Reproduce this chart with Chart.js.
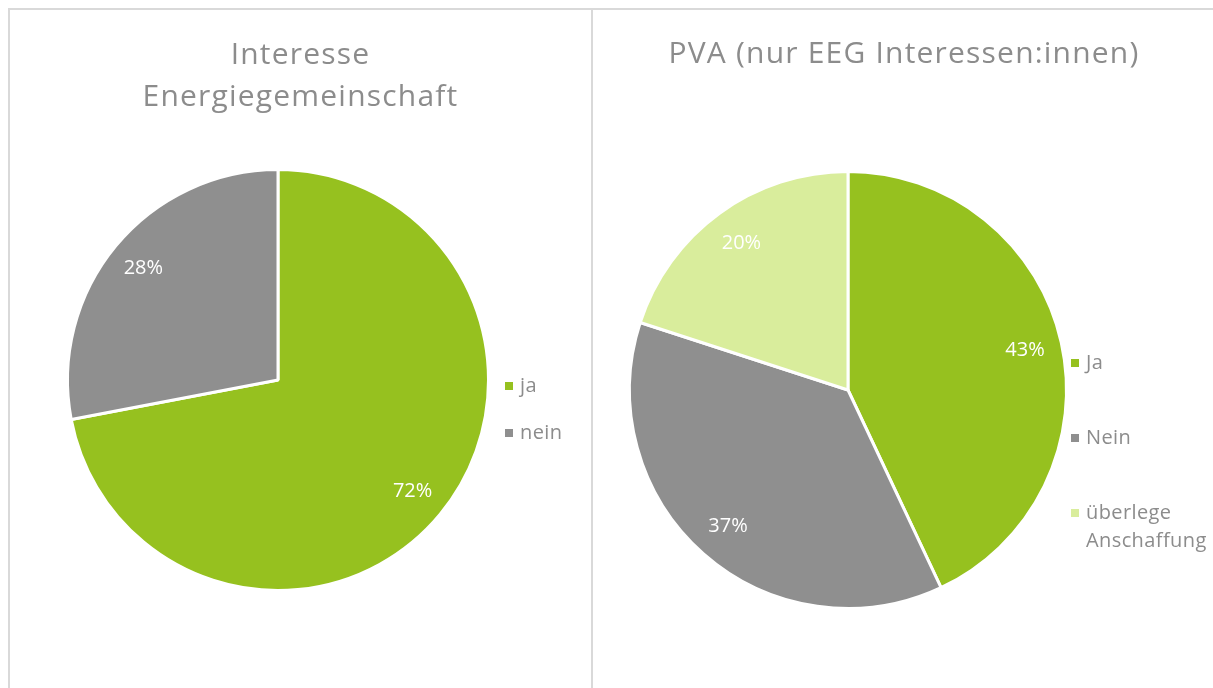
<!DOCTYPE html>
<html>
<head>
<title>Energiegemeinschaft Umfrage</title>
<script src="https://cdn.jsdelivr.net/npm/chart.js"></script>
<style>
body {
    margin:0;
    background:white;
    width:1213px;
    height:688px;
    overflow:hidden;
    position:relative;
    font-family:"Open Sans", Arial;
}
.frame {
    position:absolute;
    left:8px; top:8px;
    width:1300px; height:800px;
    border-top:2px solid #d9d9d9;
    border-left:2px solid #d9d9d9;
}
.divider {
    position:absolute;
    left:591px; top:8px;
    width:2px; height:700px;
    background:#d9d9d9;
}
canvas { position:absolute; top:10px; }
#left { left:10px; }
#right { left:595px; }
</style>
</head>
<body>

<div class="frame"></div>
<div class="divider"></div>
<canvas id="left" width="581" height="678"></canvas>
<canvas id="right" width="618" height="678"></canvas>

<script>
// ---------------- DATA ----------------
const interestLabels = ["ja", "nein"];
const interestValues = [72, 28];
const interestTitle = ["Interesse", "Energiegemeinschaft"];

const pvaLabels = ["Ja", "Nein", ["überlege", "Anschaffung"]];
const pvaValues = [43, 37, 20];
const pvaTitle = ["PVA (nur EEG Interessen:innen)"];

const GREEN = "#96c11f";
const GREY = "#8f8f8f";
const LIGHT = "#d9ed9c";
const TEXT = "#8c8c8c";
const FONT = "'Open Sans', Arial";

// ---------------- PLUGINS ----------------
// title centred over the whole panel (not only over the pie)
const panelTitle = {
    id:"panelTitle",
    afterDraw(chart, args, opts){
        const ctx = chart.ctx;
        ctx.save();
        ctx.fillStyle = TEXT;
        ctx.font = opts.size + "px " + FONT;
        ctx.letterSpacing = "1.2px";
        ctx.textAlign = "center";
        ctx.textBaseline = "alphabetic";
        opts.text.forEach((t,i)=> ctx.fillText(t, chart.width/2, opts.y + i*opts.step));
        ctx.restore();
    }
};

// percent labels inside the slices
const sliceLabels = {
    id:"sliceLabels",
    afterDatasetsDraw(chart){
        const ctx = chart.ctx;
        const meta = chart.getDatasetMeta(0);
        const vals = chart.data.datasets[0].data;
        ctx.save();
        ctx.fillStyle = "white";
        ctx.font = "20px " + FONT;
        ctx.textAlign = "center";
        ctx.textBaseline = "middle";
        meta.data.forEach((arc,i)=>{
            const p = arc.getProps(["x","y","startAngle","endAngle","outerRadius"], true);
            const mid = (p.startAngle + p.endAngle)/2;
            const r = p.outerRadius*0.83;
            ctx.fillText(vals[i]+"%", p.x + Math.cos(mid)*r, p.y + Math.sin(mid)*r);
        });
        ctx.restore();
    }
};

// legend on the right, Excel style
const sideLegend = {
    id:"sideLegend",
    afterDraw(chart, args, opts){
        const ctx = chart.ctx;
        const colors = chart.data.datasets[0].backgroundColor;
        ctx.save();
        ctx.font = "20px " + FONT;
        ctx.letterSpacing = "0.4px";
        ctx.textBaseline = "middle";
        ctx.textAlign = "left";
        chart.data.labels.forEach((lab,i)=>{
            const y = opts.y + i*opts.step;
            ctx.fillStyle = colors[i];
            ctx.fillRect(opts.x, y-4, 8, 8);
            ctx.fillStyle = TEXT;
            const lines = Array.isArray(lab) ? lab : [lab];
            lines.forEach((t,j)=> ctx.fillText(t, opts.x+15, y + j*28));
        });
        ctx.restore();
    }
};

function makePie(id, labels, values, colors, title, pad, legend){
    return new Chart(document.getElementById(id), {
        type:"pie",
        data:{
            labels:labels,
            datasets:[{
                data:values,
                backgroundColor:colors,
                borderColor:"white",
                borderWidth:3
            }]
        },
        options:{
            responsive:false,
            animation:false,
            layout:{ padding:pad },
            plugins:{
                legend:{ display:false },
                tooltip:{ enabled:false },
                title:{ display:false },
                panelTitle:title,
                sideLegend:legend
            }
        },
        plugins:[sliceLabels, sideLegend, panelTitle]
    });
}

// ---------------- CHARTS ----------------
makePie("left", interestLabels, interestValues, [GREEN, GREY],
    {text:interestTitle, size:30, y:54, step:42},
    {left:56, right:101, top:158, bottom:96},
    {x:495, y:376, step:47});

makePie("right", pvaLabels, pvaValues, [GREEN, GREY, LIGHT],
    {text:pvaTitle, size:30, y:53, step:42},
    {left:33, right:145, top:160, bottom:78},
    {x:476, y:353, step:75});
</script>

</body>
</html>
